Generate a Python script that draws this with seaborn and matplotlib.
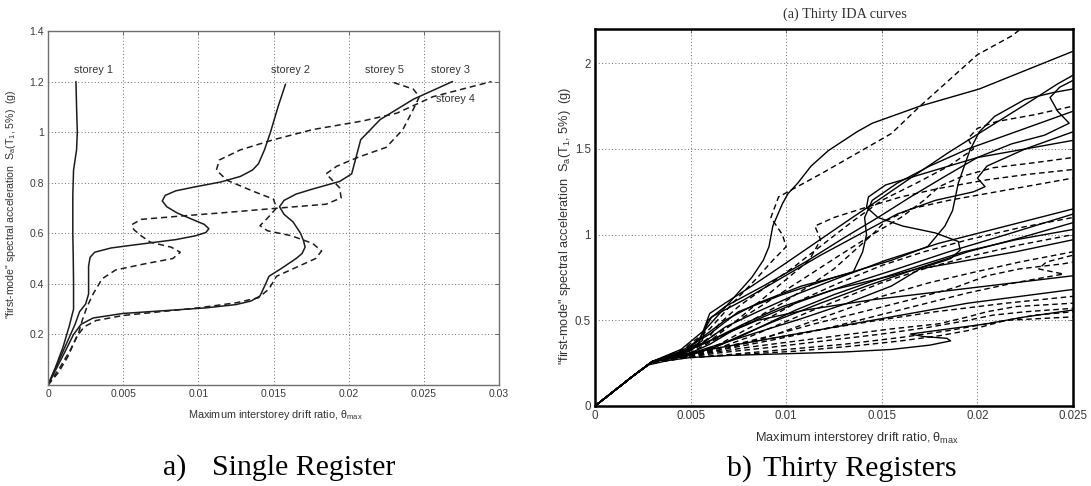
import pandas as pd
import matplotlib
matplotlib.use("Agg")
import matplotlib.pyplot as plt
import seaborn as sns

# ---------------- left panel: one record, five storeys ----------------
storey1_drift = [0, 0.0005, 0.001, 0.0014, 0.0017, 0.0017, 0.00168, 0.00165, 0.00165, 0.0017, 0.0019, 0.00195, 0.0019, 0.00186]
storey1_sa = [0, 0.07, 0.15, 0.23, 0.3, 0.4, 0.5, 0.6, 0.75, 0.85, 0.93, 1.0, 1.1, 1.2]

storey2_drift = [0, 0.0006, 0.0012, 0.0018, 0.0021, 0.0025, 0.0027, 0.0027, 0.0028, 0.0031, 0.0042, 0.006, 0.0085,
                 0.0098, 0.0105, 0.0107, 0.0104, 0.0096, 0.0086, 0.0079, 0.0076, 0.0078, 0.0085, 0.0099, 0.0115,
                 0.0128, 0.0136, 0.014, 0.0144, 0.0148, 0.0153, 0.0158]
storey2_sa = [0, 0.08, 0.16, 0.24, 0.29, 0.32, 0.36, 0.47, 0.505, 0.525, 0.542, 0.556, 0.575,
              0.59, 0.603, 0.618, 0.635, 0.655, 0.68, 0.705, 0.728, 0.75, 0.768, 0.785, 0.803,
              0.825, 0.85, 0.875, 0.93, 1.0, 1.1, 1.19]

storey3_drift = [0, 0.0006, 0.0012, 0.0017, 0.0022, 0.003, 0.005, 0.008, 0.0105, 0.0125, 0.0135, 0.0141, 0.0144,
                 0.0147, 0.0155, 0.0165, 0.0169, 0.0171, 0.017, 0.0168, 0.0163, 0.0157, 0.0154, 0.0157, 0.0165,
                 0.0176, 0.0194, 0.0202, 0.0204, 0.0208, 0.0221, 0.0243, 0.0269]
storey3_sa = [0, 0.07, 0.14, 0.2, 0.24, 0.265, 0.283, 0.295, 0.305, 0.318, 0.332, 0.352, 0.39,
              0.43, 0.46, 0.5, 0.52, 0.545, 0.57, 0.6, 0.645, 0.675, 0.705, 0.73, 0.755,
              0.775, 0.805, 0.835, 0.88, 0.97, 1.05, 1.13, 1.2]

storey4_drift = [0, 0.0007, 0.0013, 0.0019, 0.0024, 0.0032, 0.005, 0.0075, 0.01, 0.0125, 0.014, 0.0147, 0.0152,
                 0.0165, 0.0178, 0.0182, 0.0176, 0.0162, 0.0146, 0.0141, 0.0146, 0.0152, 0.015, 0.0137, 0.0119,
                 0.0112, 0.0114, 0.0128, 0.015, 0.0176, 0.021, 0.0232, 0.0256, 0.0295]
storey4_sa = [0, 0.05, 0.11, 0.19, 0.23, 0.255, 0.275, 0.29, 0.305, 0.325, 0.345, 0.38, 0.43,
              0.465, 0.5, 0.53, 0.56, 0.59, 0.61, 0.63, 0.66, 0.7, 0.735, 0.765, 0.81,
              0.85, 0.89, 0.93, 0.97, 1.01, 1.045, 1.075, 1.14, 1.2]

storey5_drift = [0, 0.0008, 0.0015, 0.002, 0.0023, 0.0026, 0.003, 0.0036, 0.0045, 0.0065, 0.0083, 0.0088, 0.0082,
                 0.0068, 0.0062, 0.0057, 0.0056, 0.0062, 0.0088, 0.012, 0.0154, 0.0185, 0.0195, 0.0194, 0.0185,
                 0.0192, 0.0206, 0.0225, 0.0236, 0.0243, 0.0247, 0.0243, 0.0228]
storey5_sa = [0, 0.07, 0.14, 0.2, 0.26, 0.31, 0.36, 0.42, 0.455, 0.48, 0.5, 0.525, 0.545,
              0.565, 0.59, 0.615, 0.635, 0.655, 0.668, 0.683, 0.7, 0.715, 0.74, 0.78, 0.835,
              0.865, 0.9, 0.94, 1.01, 1.09, 1.14, 1.17, 1.2]

storey_labels = ["storey 1", "storey 2", "storey 3", "storey 4", "storey 5"]
storey_label_x = [0.0030, 0.0161, 0.02675, 0.0271, 0.0224]
storey_label_y = [1.225, 1.225, 1.225, 1.11, 1.225]

left_xticks = [0, 0.005, 0.01, 0.015, 0.02, 0.025, 0.03]
left_xticklabels = ["0", "0.005", "0.01", "0.015", "0.02", "0.025", "0.03"]
left_yticks = [0.2, 0.4, 0.6, 0.8, 1.0, 1.2, 1.4]
left_yticklabels = ["0.2", "0.4", "0.6", "0.8", "1", "1.2", "1.4"]

# ---------------- right panel: thirty IDA curves ----------------
elastic_drift = [0, 0.001, 0.002]
elastic_sa = [0, 0.088, 0.176]

s01_d = [0.003, 0.0045, 0.0058, 0.007, 0.0082, 0.0088, 0.0091, 0.0093, 0.0098, 0.0101, 0.0106, 0.0113, 0.0122, 0.0137,
         0.0145, 0.0155, 0.017, 0.0201, 0.025]
s01_s = [0.26, 0.33, 0.45, 0.6, 0.75, 0.85, 0.93, 1.05, 1.18, 1.24, 1.3, 1.4, 1.49, 1.6,
         1.65, 1.69, 1.75, 1.85, 2.07]
s02_d = [0.0029, 0.0042, 0.0054, 0.0057, 0.006, 0.0068, 0.0082, 0.0098, 0.0115, 0.0132, 0.0148, 0.0165, 0.0185, 0.0205, 0.0228, 0.0242, 0.025]
s02_s = [0.25, 0.3, 0.36, 0.45, 0.54, 0.6, 0.7, 0.82, 0.95, 1.08, 1.2, 1.33, 1.48, 1.62, 1.78, 1.88, 1.93]
s03_d = [0.0029, 0.0044, 0.0056, 0.0059, 0.0068, 0.0088, 0.011, 0.013, 0.0148, 0.0165, 0.0183, 0.02, 0.0218, 0.0235, 0.0248, 0.0242, 0.0238, 0.0243, 0.025]
s03_s = [0.25, 0.3, 0.38, 0.5, 0.58, 0.7, 0.84, 0.98, 1.1, 1.22, 1.34, 1.45, 1.53, 1.58, 1.65, 1.72, 1.8, 1.86, 1.9]
s04_d = [0.003, 0.0045, 0.006, 0.0075, 0.0098, 0.0125, 0.0155, 0.0174, 0.0183, 0.0187, 0.019, 0.0196, 0.0201, 0.0209, 0.0225, 0.024, 0.025]
s04_s = [0.26, 0.32, 0.42, 0.55, 0.65, 0.75, 0.85, 0.93, 1.05, 1.14, 1.3, 1.49, 1.6, 1.69, 1.79, 1.83, 1.85]
s05_d = [0.003, 0.0045, 0.0056, 0.0068, 0.0085, 0.0108, 0.0135, 0.014, 0.0142, 0.0141, 0.0145, 0.0158, 0.0175, 0.0195, 0.022, 0.025]
s05_s = [0.26, 0.3, 0.4, 0.5, 0.6, 0.7, 0.78, 0.9, 1.0, 1.1, 1.2, 1.3, 1.4, 1.5, 1.6, 1.72]
s06_d = [0.003, 0.0045, 0.0055, 0.0061, 0.0078, 0.0098, 0.0118, 0.0138, 0.0158, 0.0178, 0.0198, 0.0204, 0.02, 0.0205, 0.0225, 0.025]
s06_s = [0.26, 0.3, 0.4, 0.52, 0.62, 0.75, 0.88, 1.0, 1.12, 1.2, 1.25, 1.28, 1.33, 1.4, 1.5, 1.6]
s07_d = [0.003, 0.0046, 0.006, 0.0078, 0.0098, 0.0125, 0.0155, 0.0175, 0.0186, 0.0191, 0.019, 0.0178, 0.0161, 0.0148,
         0.0142, 0.0143, 0.0152, 0.017, 0.02, 0.025]
s07_s = [0.26, 0.31, 0.38, 0.48, 0.58, 0.68, 0.76, 0.82, 0.86, 0.91, 0.96, 1.01, 1.05, 1.1,
         1.16, 1.22, 1.29, 1.35, 1.45, 1.55]
s08_d = [0.003, 0.0046, 0.0058, 0.0068, 0.0085, 0.0105, 0.0128, 0.0152, 0.018, 0.0215, 0.025]
s08_s = [0.26, 0.3, 0.38, 0.46, 0.55, 0.65, 0.75, 0.85, 0.95, 1.05, 1.15]
s09_d = [0.003, 0.0048, 0.006, 0.0072, 0.0088, 0.0105, 0.013, 0.0158, 0.0185, 0.0215, 0.025]
s09_s = [0.26, 0.3, 0.36, 0.44, 0.52, 0.6, 0.7, 0.8, 0.9, 1.0, 1.12]
s10_d = [0.003, 0.0047, 0.0062, 0.0078, 0.0095, 0.0118, 0.0142, 0.0168, 0.0195, 0.0222, 0.025]
s10_s = [0.26, 0.29, 0.34, 0.42, 0.5, 0.6, 0.7, 0.8, 0.9, 0.98, 1.07]
s11_d = [0.003, 0.0048, 0.0062, 0.0075, 0.009, 0.0105, 0.0125, 0.0148, 0.017, 0.0193, 0.022, 0.025]
s11_s = [0.26, 0.29, 0.34, 0.4, 0.48, 0.56, 0.65, 0.74, 0.82, 0.9, 0.97, 1.03]
s12_d = [0.003, 0.0048, 0.0065, 0.0085, 0.0108, 0.0132, 0.0155, 0.017, 0.0195, 0.022, 0.025]
s12_s = [0.26, 0.3, 0.36, 0.43, 0.51, 0.6, 0.7, 0.8, 0.85, 0.9, 0.97]
s13_d = [0.0029, 0.0042, 0.0056, 0.007, 0.0085, 0.011, 0.0145, 0.019, 0.025]
s13_s = [0.25, 0.3, 0.36, 0.43, 0.5, 0.56, 0.62, 0.68, 0.76]
s14_d = [0.0029, 0.004, 0.0055, 0.0075, 0.0105, 0.0135, 0.0165, 0.0195, 0.025]
s14_s = [0.25, 0.29, 0.32, 0.36, 0.42, 0.48, 0.54, 0.6, 0.68]
s15_d = [0.0028, 0.0038, 0.005, 0.007, 0.01, 0.013, 0.0155, 0.0175, 0.0186, 0.0184, 0.0172, 0.0165, 0.0185, 0.0205, 0.0225, 0.025]
s15_s = [0.24, 0.265, 0.283, 0.295, 0.305, 0.315, 0.33, 0.355, 0.38, 0.395, 0.405, 0.42, 0.45, 0.48, 0.52, 0.56]

d01_d = [0.003, 0.0046, 0.006, 0.0072, 0.0085, 0.0093, 0.01, 0.0098, 0.0092, 0.0096, 0.0119, 0.0155, 0.017, 0.0185, 0.02, 0.0218, 0.0225]
d01_s = [0.26, 0.33, 0.45, 0.6, 0.75, 0.85, 0.93, 1.0, 1.1, 1.22, 1.36, 1.59, 1.75, 1.9, 2.05, 2.16, 2.22]
d02_d = [0.003, 0.0045, 0.0058, 0.0065, 0.0075, 0.009, 0.0105, 0.012, 0.0135, 0.015, 0.0168, 0.0185, 0.0198, 0.0195, 0.02, 0.021, 0.023, 0.025]
d02_s = [0.26, 0.3, 0.38, 0.48, 0.58, 0.7, 0.82, 0.95, 1.08, 1.2, 1.3, 1.4, 1.5, 1.56, 1.62, 1.66, 1.7, 1.75]
d03_d = [0.003, 0.0046, 0.006, 0.0075, 0.0092, 0.011, 0.0128, 0.0145, 0.016, 0.0172, 0.018, 0.0192, 0.0208, 0.023, 0.025]
d03_s = [0.26, 0.3, 0.4, 0.5, 0.62, 0.75, 0.88, 1.0, 1.1, 1.2, 1.28, 1.34, 1.39, 1.42, 1.45]
d04_d = [0.003, 0.0046, 0.006, 0.0072, 0.0085, 0.0098, 0.0112, 0.0118, 0.0115, 0.0125, 0.0142, 0.016, 0.018, 0.0205, 0.0225, 0.025]
d04_s = [0.26, 0.3, 0.38, 0.48, 0.6, 0.72, 0.85, 0.97, 1.05, 1.1, 1.16, 1.22, 1.27, 1.32, 1.35, 1.38]
d05_d = [0.003, 0.0048, 0.0065, 0.0082, 0.0098, 0.0112, 0.0125, 0.0135, 0.0145, 0.0152, 0.0165, 0.0185, 0.021, 0.0235, 0.025]
d05_s = [0.26, 0.3, 0.4, 0.5, 0.6, 0.7, 0.8, 0.9, 1.0, 1.08, 1.15, 1.2, 1.25, 1.3, 1.33]
d06_d = [0.003, 0.005, 0.0065, 0.0078, 0.0092, 0.0108, 0.0128, 0.015, 0.0172, 0.0195, 0.0222, 0.025]
d06_s = [0.26, 0.3, 0.36, 0.44, 0.52, 0.62, 0.72, 0.82, 0.9, 0.97, 1.04, 1.1]
d07_d = [0.003, 0.005, 0.0065, 0.008, 0.0095, 0.0112, 0.013, 0.015, 0.0172, 0.0195, 0.0222, 0.025]
d07_s = [0.26, 0.29, 0.34, 0.4, 0.47, 0.55, 0.63, 0.72, 0.8, 0.87, 0.94, 1.0]
d08_d = [0.003, 0.0052, 0.007, 0.009, 0.011, 0.013, 0.015, 0.0175, 0.0198, 0.0222, 0.025]
d08_s = [0.26, 0.29, 0.34, 0.4, 0.48, 0.56, 0.64, 0.72, 0.78, 0.84, 0.9]
d09_d = [0.003, 0.005, 0.007, 0.0092, 0.0115, 0.014, 0.0165, 0.0188, 0.0205, 0.0222, 0.0245, 0.025]
d09_s = [0.26, 0.3, 0.35, 0.41, 0.48, 0.55, 0.62, 0.69, 0.76, 0.8, 0.83, 0.84]
d10_d = [0.003, 0.005, 0.0072, 0.0095, 0.012, 0.0145, 0.017, 0.0195, 0.022, 0.0245, 0.0232, 0.0236, 0.025]
d10_s = [0.26, 0.3, 0.34, 0.39, 0.45, 0.52, 0.59, 0.66, 0.72, 0.77, 0.8, 0.84, 0.88]
d11_d = [0.0029, 0.0042, 0.0062, 0.0085, 0.0115, 0.0148, 0.0178, 0.0215, 0.025]
d11_s = [0.25, 0.29, 0.33, 0.38, 0.44, 0.5, 0.55, 0.6, 0.64]
d12_d = [0.0029, 0.004, 0.006, 0.0085, 0.012, 0.0155, 0.018, 0.0195, 0.0205, 0.022, 0.025]
d12_s = [0.25, 0.28, 0.31, 0.35, 0.4, 0.45, 0.48, 0.52, 0.55, 0.58, 0.6]
d13_d = [0.0029, 0.0045, 0.0065, 0.009, 0.012, 0.015, 0.0175, 0.0195, 0.0208, 0.0225, 0.025]
d13_s = [0.25, 0.28, 0.31, 0.34, 0.38, 0.42, 0.46, 0.5, 0.53, 0.55, 0.57]
d14_d = [0.0029, 0.0046, 0.007, 0.01, 0.013, 0.016, 0.0185, 0.02, 0.0215, 0.023, 0.025]
d14_s = [0.25, 0.28, 0.3, 0.33, 0.36, 0.4, 0.44, 0.47, 0.5, 0.53, 0.55]
d15_d = [0.0029, 0.0047, 0.0075, 0.0105, 0.0135, 0.016, 0.018, 0.0195, 0.0205, 0.0215, 0.025]
d15_s = [0.25, 0.28, 0.3, 0.32, 0.35, 0.38, 0.41, 0.44, 0.47, 0.5, 0.52]

right_xticks = [0, 0.005, 0.01, 0.015, 0.02, 0.025]
right_xticklabels = ["0", "0.005", "0.01", "0.015", "0.02", "0.025"]
right_yticks = [0, 0.5, 1.0, 1.5, 2.0]
right_yticklabels = ["0", "0.5", "1", "1.5", "2"]

ylabel_text = '"first-mode" spectral acceleration  S$_a$(T$_1$, 5%)  (g)'
xlabel_left = "Maximum interstorey drift ratio, \u03b8$_{max}$"
xlabel_right = "Maximum interstorey drift ratio,\u2009\u03b8$_{max}$"


def build_frame(curves):
    """Junta las curvas en una tabla larga para seaborn."""
    rows = []
    for name, kind, drift, sa in curves:
        for i, (d, s) in enumerate(zip(drift, sa)):
            rows.append({"curve": name, "kind": kind, "order": i, "drift": d, "sa": s})
    return pd.DataFrame(rows)


def style_axes(ax, spine_color, spine_width, labelsize):
    for sp in ax.spines.values():
        sp.set_color(spine_color)
        sp.set_linewidth(spine_width)
    ax.tick_params(direction="in", length=3, width=0.6, top=True, right=True,
                   color="#555555", labelcolor="#3a3a3a", labelsize=labelsize, pad=3)
    ax.grid(True, linestyle=(0, (1, 2.4)), color="#6a6a6a", linewidth=0.7)
    ax.set_axisbelow(True)
    ax.set_xlabel("")
    ax.set_ylabel("")


sns.set_theme(style="white")
plt.rcParams["font.family"] = ["Liberation Sans", "DejaVu Sans"]
plt.rcParams["mathtext.default"] = "regular"

fig = plt.figure(figsize=(10.91, 4.86), dpi=100)

# left panel
left_curves = [
    ("storey1", "solid", storey1_drift, storey1_sa),
    ("storey2", "solid", storey2_drift, storey2_sa),
    ("storey3", "solid", storey3_drift, storey3_sa),
    ("storey4", "dashed", storey4_drift, storey4_sa),
    ("storey5", "dashed", storey5_drift, storey5_sa),
]
ax1 = fig.add_axes([48 / 1091, 1 - 385 / 486, 451 / 1091, 354 / 486])
sns.lineplot(data=build_frame(left_curves), x="drift", y="sa", units="curve", estimator=None,
             sort=False, style="kind", dashes={"solid": "", "dashed": (4, 2.6)},
             color="#1c1c1c", linewidth=1.1, legend=False, ax=ax1)
ax1.set_xlim(0, 0.03)
ax1.set_ylim(0, 1.4)
ax1.set_xticks(left_xticks, left_xticklabels)
ax1.set_yticks(left_yticks, left_yticklabels)
style_axes(ax1, "#707070", 1.0, 7.5)
for lab, lx, ly in zip(storey_labels, storey_label_x, storey_label_y):
    ax1.text(lx, ly, lab, ha="center", va="bottom", fontsize=7.8, color="#333333")

# right panel
solid_ida = [s01_d, s02_d, s03_d, s04_d, s05_d, s06_d, s07_d, s08_d, s09_d, s10_d, s11_d, s12_d, s13_d, s14_d, s15_d]
solid_sa = [s01_s, s02_s, s03_s, s04_s, s05_s, s06_s, s07_s, s08_s, s09_s, s10_s, s11_s, s12_s, s13_s, s14_s, s15_s]
dashed_ida = [d01_d, d02_d, d03_d, d04_d, d05_d, d06_d, d07_d, d08_d, d09_d, d10_d, d11_d, d12_d, d13_d, d14_d, d15_d]
dashed_sa = [d01_s, d02_s, d03_s, d04_s, d05_s, d06_s, d07_s, d08_s, d09_s, d10_s, d11_s, d12_s, d13_s, d14_s, d15_s]

right_curves = []
for i, (dd, ss) in enumerate(zip(solid_ida, solid_sa)):
    right_curves.append((f"s{i}", "solid", elastic_drift + dd, elastic_sa + ss))
for i, (dd, ss) in enumerate(zip(dashed_ida, dashed_sa)):
    right_curves.append((f"d{i}", "dashed", elastic_drift + dd, elastic_sa + ss))

ax2 = fig.add_axes([595 / 1091, 1 - 406 / 486, 478 / 1091, 377 / 486])
sns.lineplot(data=build_frame(right_curves), x="drift", y="sa", units="curve", estimator=None,
             sort=False, style="kind", dashes={"solid": "", "dashed": (4, 2.6)},
             color="black", linewidth=1.0, legend=False, ax=ax2)
ax2.set_xlim(0, 0.025)
ax2.set_ylim(0, 2.2)
ax2.set_xticks(right_xticks, right_xticklabels)
ax2.set_yticks(right_yticks, right_yticklabels)
style_axes(ax2, "black", 1.8, 8.3)

# axis labels, title and captions
fig.text(275 / 1091, 1 - 415 / 486, xlabel_left, ha="center", va="center", fontsize=7.8, color="#333333")
fig.text(11 / 1091, 1 - 204 / 486, ylabel_text, ha="center", va="center", rotation=90, fontsize=7.6, color="#333333")
fig.text(857 / 1091, 1 - 438 / 486, xlabel_right, ha="center", va="center", fontsize=9.2, color="#333333")
fig.text(565 / 1091, 1 - 226 / 486, ylabel_text, ha="center", va="center", rotation=90, fontsize=9.2, color="#333333")
fig.text(845 / 1091, 1 - 14 / 486, "(a) Thirty IDA curves", ha="center", va="center",
         fontsize=10.3, family=["Liberation Serif", "DejaVu Serif"], color="#333333")

cap = dict(va="baseline", ha="left", fontsize=21.5, family=["Liberation Serif", "DejaVu Serif"], color="black")
fig.text(163 / 1091, 1 - 475 / 486, "a)", **cap)
fig.text(212 / 1091, 1 - 475 / 486, "Single Register", **cap)
fig.text(727 / 1091, 1 - 476 / 486, "b)", **cap)
fig.text(763 / 1091, 1 - 476 / 486, "Thirty Registers", **cap)

fig.savefig("out.png", dpi=100)
